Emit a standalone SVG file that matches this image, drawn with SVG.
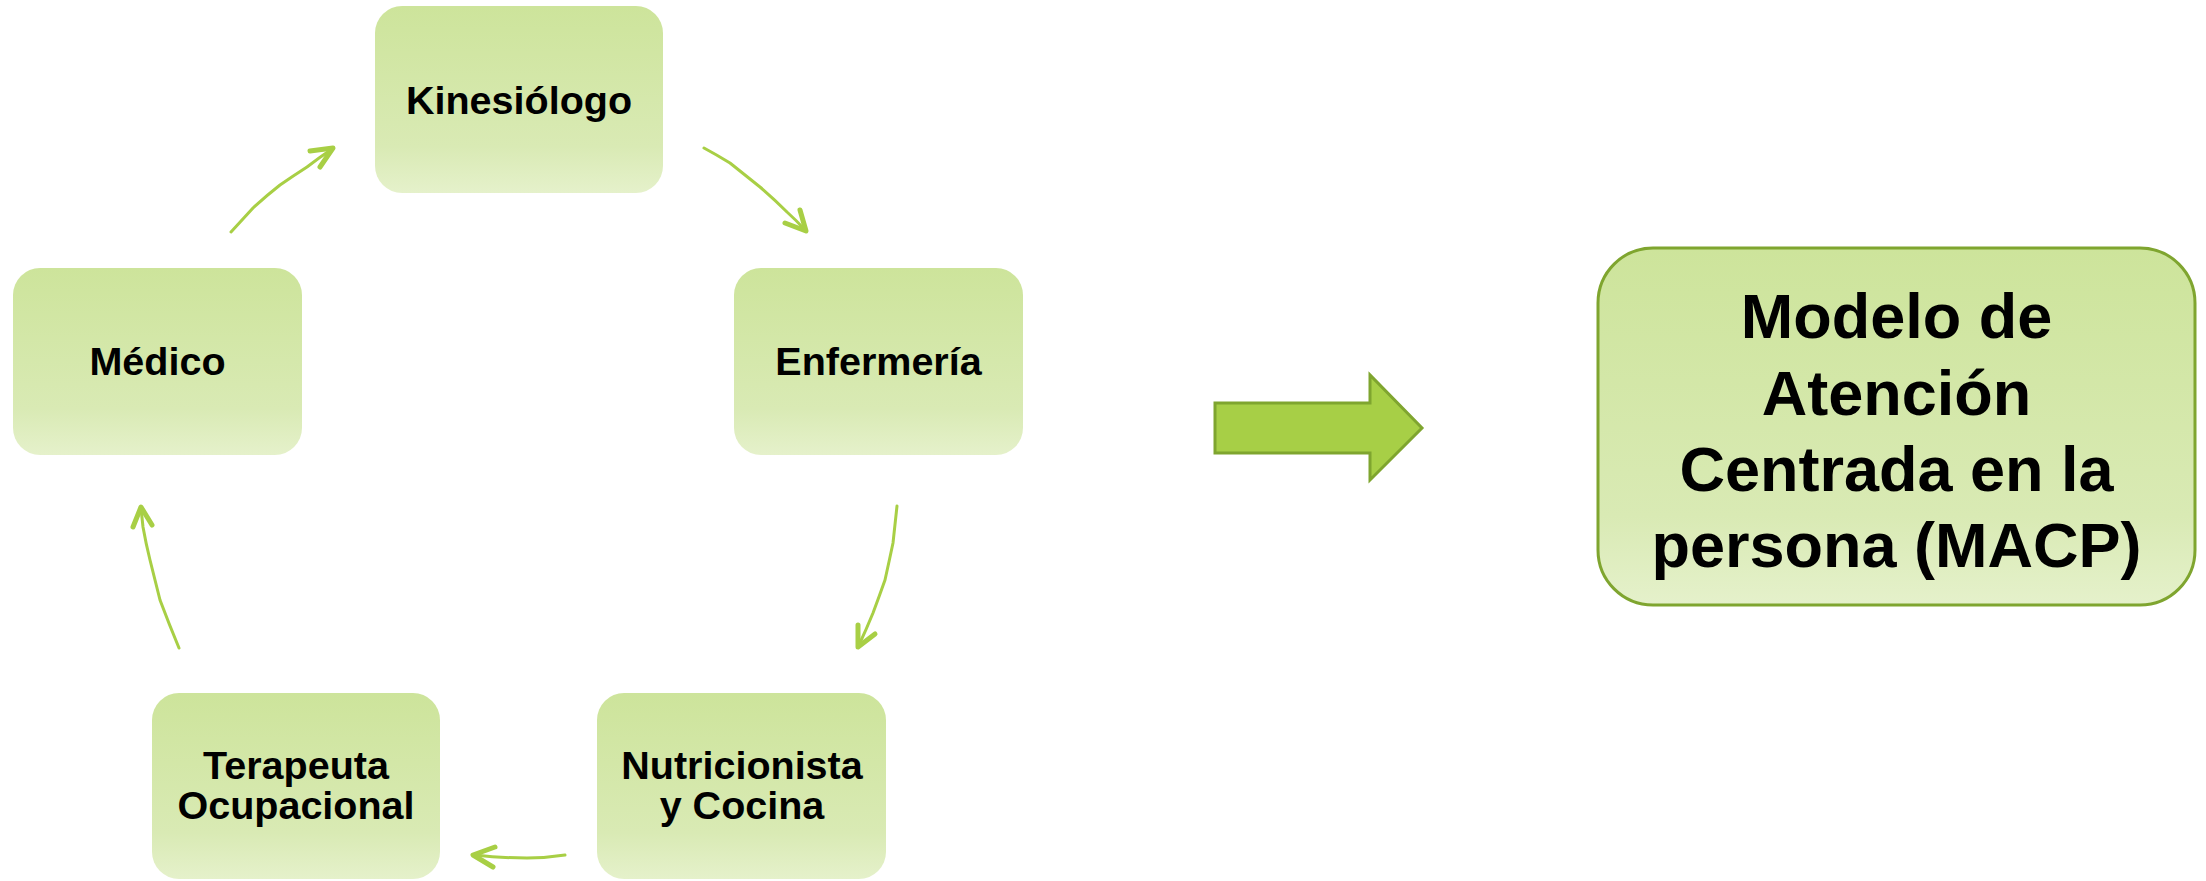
<svg xmlns="http://www.w3.org/2000/svg" width="2206" height="881" viewBox="0 0 2206 881">
<defs>
<linearGradient id="g" x1="0" y1="0" x2="0" y2="1">
<stop offset="0" stop-color="#cde49b"/>
<stop offset="0.75" stop-color="#d9eab4"/>
<stop offset="1" stop-color="#e5f1cb"/>
</linearGradient>
</defs>
<style>
.box{fill:url(#g)}
.big{fill:url(#g);stroke:#7fa52f;stroke-width:3}
.t{font-family:"Liberation Sans",Arial,sans-serif;font-weight:bold;font-size:39.5px;fill:#000;text-anchor:middle}
.tb{font-family:"Liberation Sans",Arial,sans-serif;font-weight:bold;font-size:63px;fill:#000;text-anchor:middle}
.c{fill:none;stroke:#a8cf45;stroke-width:3;stroke-linecap:round;stroke-linejoin:round}
.h{fill:none;stroke:#a8cf45;stroke-width:5;stroke-linecap:round;stroke-linejoin:round}
</style>
<rect width="2206" height="881" fill="#fff"/>
<g id="kinesiologo">
<rect class="box" x="375" y="6" width="288" height="187" rx="27"/>
<text class="t" x="519" y="114">Kinesiólogo</text>
</g>
<g id="enfermeria">
<rect class="box" x="734" y="268" width="289" height="187" rx="27"/>
<text class="t" x="878.5" y="375">Enfermería</text>
</g>
<g id="nutricionista">
<rect class="box" x="597" y="693" width="289" height="186" rx="27"/>
<text class="t" x="742" y="779">Nutricionista</text>
<text class="t" x="742" y="818.5">y Cocina</text>
</g>
<g id="terapeuta">
<rect class="box" x="152" y="693" width="288" height="186" rx="27"/>
<text class="t" x="296" y="779">Terapeuta</text>
<text class="t" x="296" y="818.5">Ocupacional</text>
</g>
<g id="medico">
<rect class="box" x="13" y="268" width="289" height="187" rx="27"/>
<text class="t" x="157.5" y="375">Médico</text>
</g>
<g id="macp">
<rect class="big" x="1598" y="248" width="597" height="357" rx="55"/>
<text class="tb" x="1896.5" y="338">Modelo de</text>
<text class="tb" x="1896.5" y="414.5">Atención</text>
<text class="tb" x="1896.5" y="491">Centrada en la</text>
<text class="tb" x="1896.5" y="567">persona (MACP)</text>
</g>
<g id="connectors">
<path class="c" d="M231,232 Q242,220 253,208 Q266,196 280,185 Q293,176 307,167 Q320,157 332,149"/>
<path class="h" d="M310,151 L333,148 L320,167"/>
<path class="c" d="M704,148 Q717,155 730,163 Q745,175 760,187 Q774,199 787,212 Q797,221 805,230"/>
<path class="h" d="M785,223 L806,231 L800,210"/>
<path class="c" d="M897,506 Q895,525 893,543 Q889,562 885,580 Q879,597 873,613 Q866,630 859,645"/>
<path class="h" d="M858,625 L858,647 L875,634"/>
<path class="c" d="M565,855 Q546,858 527,858 Q500,858 475,855"/>
<path class="h" d="M495,847 L473,855 L493,867"/>
<path class="c" d="M179,648 Q169,624 160,600 Q155,580 150,560 Q146,544 143,527 Q142,517 141,509"/>
<path class="h" d="M133,527 L141,507 L152,525"/>
<path d="M1215,403 L1370,403 L1370,375 L1422,428 L1370,480 L1370,453 L1215,453 Z" fill="#a7cf46" stroke="#7fa52f" stroke-width="3" stroke-linejoin="miter"/>
</g>
</svg>
